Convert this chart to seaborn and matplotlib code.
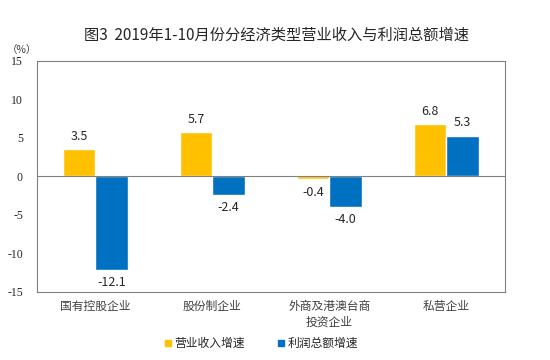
import matplotlib
matplotlib.use("Agg")
import matplotlib.pyplot as plt
import seaborn as sns
import pandas as pd
from matplotlib.lines import Line2D

categories = ["国有控股企业", "股份制企业", "外商及港澳台商\n投资企业", "私营企业"]
series_names = ["营业收入增速", "利润总额增速"]
revenue = [3.5, 5.7, -0.4, 6.8]
profit = [-12.1, -2.4, -4.0, 5.3]
yticks = [-15, -10, -5, 0, 5, 10, 15]
colors = ["#FFC000", "#0070C0"]

sns.set_theme(style="white")
plt.rcParams['font.family'] = ['Noto Sans CJK SC', 'DejaVu Sans']

df = pd.DataFrame({
    "cat": categories * 2,
    "series": [series_names[0]] * 4 + [series_names[1]] * 4,
    "value": revenue + profit,
})

fig = plt.figure(figsize=(5.5, 3.6), dpi=100)
ax = fig.add_axes([0.067, 0.189, 0.851, 0.642])
sns.barplot(data=df, x="cat", y="value", hue="series", palette=colors,
            width=0.56, ax=ax, legend=False, saturation=1)

ax.set_ylim(-15, 15)
ax.set_yticks(yticks)
ax.set_yticklabels([str(t) for t in yticks], family="Liberation Serif", fontsize=8.5)
ax.tick_params(axis="y", direction="in", length=3, color="#808080", pad=10)
ax.tick_params(axis="x", length=0, pad=6, labelsize=8.5, colors="#404040")
ax.set_xlabel("")
ax.set_ylabel("")
for s in ax.spines.values():
    s.set_color("#808080")
    s.set_linewidth(0.8)
ax.axhline(0, color="#808080", lw=0.8)
ax.set_xlim(-0.5, 3.5)

for cont in ax.containers:
    for bar in cont:
        h = bar.get_height()
        x = bar.get_x() + bar.get_width() / 2
        if h >= 0:
            ax.text(x, h + 0.8, f"{h:.1f}", ha="center", va="bottom", fontsize=9)
        else:
            ax.text(x, h - 0.8, f"{h:.1f}", ha="center", va="top", fontsize=9)

fig.text(0.502, 0.903, "图3  2019年1-10月份分经济类型营业收入与利润总额增速",
         ha="center", va="center", fontsize=11)
fig.text(0.04, 0.86, "（%）", ha="center", va="center", fontsize=7.5, color="#404040")

handles = [Line2D([0], [0], marker="s", color="none", markerfacecolor=c,
                  markeredgecolor=c, markersize=4.5) for c in colors]
fig.legend(handles, series_names, loc="center", bbox_to_anchor=(0.475, 0.045),
           ncol=2, frameon=False, fontsize=8.5, handlelength=0.6,
           handletextpad=0.2, columnspacing=2.8)

fig.savefig("out.png", dpi=100)
